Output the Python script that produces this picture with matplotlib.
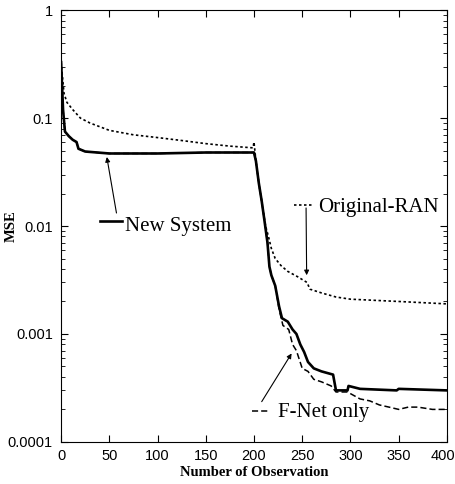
"""MSE vs number of observations (log scale)."""

import numpy as np
import matplotlib
matplotlib.use("Agg")
import matplotlib.pyplot as plt
import matplotlib.transforms as mtransforms
from matplotlib.ticker import FixedLocator, LogLocator, NullFormatter

# New System (solid)
new_x = [0, 2, 4, 8, 12, 16, 18, 25, 50, 100, 150, 200, 202, 205, 208, 211, 214,
         216, 218, 222, 226, 229, 235, 240, 244, 248, 252, 256, 262, 270, 282,
         285, 297, 298, 310, 348, 350, 400]
new_y = [0.33, 0.12, 0.075, 0.068, 0.063, 0.06, 0.052, 0.049, 0.047, 0.047, 0.048,
         0.048, 0.04, 0.025, 0.017, 0.011, 0.007, 0.0042, 0.0035, 0.0028, 0.0018,
         0.0014, 0.0013, 0.0011, 0.001, 0.0008, 0.00068, 0.00055, 0.00048, 0.00045,
         0.00042, 0.0003, 0.0003, 0.00033, 0.00031, 0.0003, 0.00031, 0.0003]

# F-Net only (dashed)
fnet_x = [0, 2, 4, 8, 12, 16, 18, 25, 50, 100, 150, 200, 202, 205, 208, 211, 214,
          216, 218, 222, 226, 230, 236, 240, 244, 250, 256, 262, 270, 280, 285,
          297, 300, 310, 320, 330, 340, 350, 360, 370, 385, 400]
fnet_y = [0.33, 0.12, 0.075, 0.068, 0.063, 0.06, 0.052, 0.049, 0.047, 0.047, 0.048,
          0.048, 0.04, 0.025, 0.017, 0.011, 0.007, 0.0042, 0.0035, 0.0028, 0.0017,
          0.0012, 0.0011, 0.0008, 0.0007, 0.00048, 0.00045, 0.00038, 0.00036,
          0.00033, 0.00029, 0.00029, 0.00028, 0.00025, 0.00024, 0.00022, 0.00021,
          0.0002, 0.00021, 0.00021, 0.0002, 0.0002]

# Original-RAN (dotted)
ran_x = [0, 3, 6, 12, 20, 30, 50, 75, 100, 125, 150, 175, 199, 200, 202, 205, 208,
         212, 215, 218, 222, 228, 235, 245, 255, 258, 270, 285, 300, 350, 400]
ran_y = [0.33, 0.17, 0.14, 0.12, 0.1, 0.09, 0.077, 0.07, 0.066, 0.062, 0.058, 0.055,
         0.053, 0.06, 0.04, 0.025, 0.017, 0.01, 0.008, 0.0062, 0.005, 0.0043, 0.0038,
         0.0034, 0.003, 0.0026, 0.0024, 0.0022, 0.0021, 0.002, 0.0019]

y_ticks = [1e-4, 1e-3, 1e-2, 1e-1, 1]
y_tick_labels = ["0.0001", "0.001", "0.01", "0.1", "1"]
x_ticks = [0, 50, 100, 150, 200, 250, 300, 350, 400]

serif = ["Liberation Serif", "DejaVu Serif"]
sans = ["Liberation Sans", "DejaVu Sans"]

fig = plt.figure(figsize=(4.56, 4.84), dpi=100)
ax = fig.add_axes([0.134, 0.087, 0.846, 0.892])

ax.plot(ran_x, ran_y, color="black", linestyle=(0, (1.5, 1.5)), linewidth=1.2)
ax.plot(fnet_x, fnet_y, color="black", linestyle=(0, (4, 2)), linewidth=1.1)
ax.plot(new_x, new_y, color="black", linestyle="-", linewidth=1.9)

ax.set_yscale("log")
ax.set_xlim(0, 400)
ax.set_ylim(1e-4, 1)

ax.yaxis.set_major_locator(FixedLocator(y_ticks))
ax.set_yticklabels(y_tick_labels)
ax.yaxis.set_minor_locator(LogLocator(base=10, subs=np.arange(2, 10)))
ax.yaxis.set_minor_formatter(NullFormatter())
ax.set_xticks(x_ticks)

ax.tick_params(which="both", direction="in", top=True, right=True, labelsize=10.5)
ax.tick_params(axis="y", pad=6)
ax.tick_params(axis="x", pad=5)
ax.tick_params(which="major", length=5, width=0.8)
ax.tick_params(which="minor", length=3, width=0.6)
for lbl in ax.get_xticklabels() + ax.get_yticklabels():
    lbl.set_family(sans)

# nudge the last x label so it stays inside the canvas
last = ax.get_xticklabels()[-1]
last.set_transform(last.get_transform() +
                   mtransforms.ScaledTranslation(-4 / 100, 0, fig.dpi_scale_trans))

ax.set_xlabel("Number of Observation", family=serif, fontweight="bold",
              fontsize=10.5, labelpad=2)
ax.set_ylabel("MSE", family=serif, fontweight="bold", fontsize=10.5)
# label sits tight against the tick labels, as in the source figure
ax.yaxis.set_label_coords(-0.112, 0.5)

# In-plot labels with short line keys and arrows
arrow = dict(arrowstyle="-|>", color="black", lw=0.8, mutation_scale=7,
             shrinkA=0, shrinkB=0)

ax.plot([40, 63], [0.0111, 0.0111], color="black", linewidth=1.9)
ax.text(66, 0.0098, "New System", family=serif, fontsize=15, va="center")
ax.annotate("", xy=(47.4, 0.0436), xytext=(57.4, 0.0132), arrowprops=arrow)

ax.plot([241.5, 262], [0.0156, 0.0156], color="black",
        linestyle=(0, (1.5, 1.5)), linewidth=1.2)
ax.text(267, 0.0150, "Original-RAN", family=serif, fontsize=15, va="center")
ax.annotate("", xy=(254.6, 0.0035), xytext=(254, 0.0147), arrowprops=arrow)

ax.plot([198, 216], [0.000194, 0.000194], color="black",
        linestyle=(0, (4, 2)), linewidth=1.1)
ax.text(225, 0.000186, "F-Net only", family=serif, fontsize=15, va="center")
ax.annotate("", xy=(239, 0.00066), xytext=(208, 0.000236), arrowprops=arrow)

fig.savefig("out.png", dpi=100)
